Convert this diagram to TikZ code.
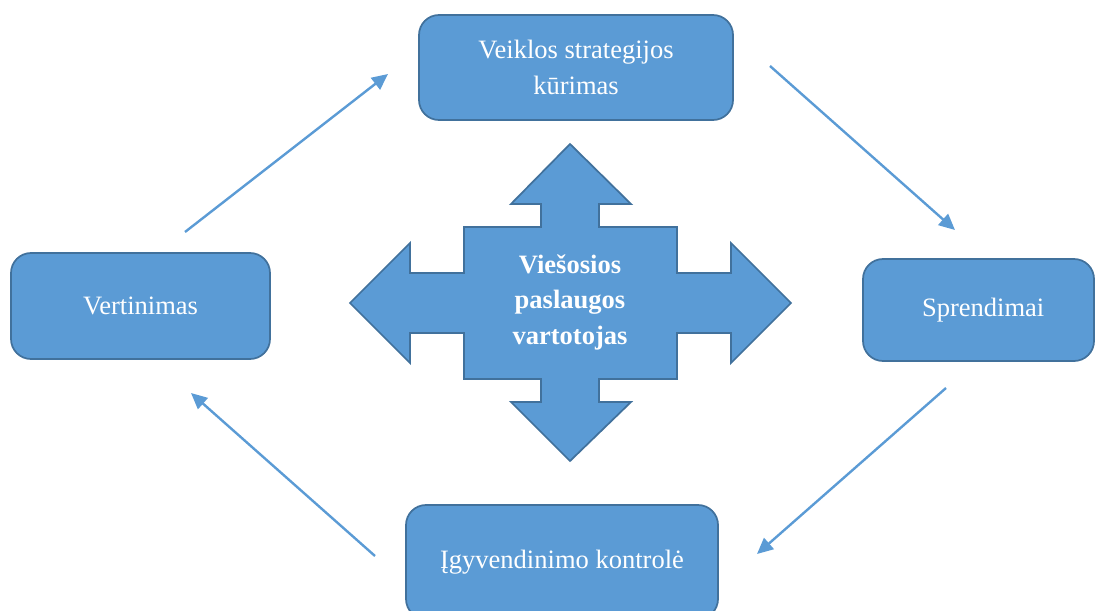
\documentclass[tikz,border=0pt]{standalone}
\usepackage{fontspec}
\setmainfont{Liberation Serif}
\usetikzlibrary{arrows.meta}
\definecolor{boxfill}{HTML}{5B9BD5}
\definecolor{boxline}{HTML}{41719C}
\tikzset{
  stagebox/.style={draw=boxline, fill=boxfill, line width=1.3pt, rounded corners=15pt,
    text=white, align=center, inner sep=0pt,
    font=\fontsize{19.9}{27}\selectfont},
  flowarrow/.style={draw=boxfill, line width=1.8pt, -{Triangle[length=12pt,width=11pt]}},
  crossshape/.style={draw=boxline, fill=boxfill, line width=1.3pt, line join=miter},
  centertext/.style={text=white, align=center, font=\bfseries\fontsize{19.9}{26.6}\selectfont}
}
\begin{document}
\begin{tikzpicture}[x=0.75pt,y=-0.75pt]
\useasboundingbox (0,0) rectangle (1095,610);
\clip (0,0) rectangle (1095,610);

% stage boxes
\node[stagebox, minimum width=235.5pt, minimum height=78.75pt] (strat) at (576,67.5) {Veiklos strategijos\\kūrimas};
\node[stagebox, minimum width=194.25pt, minimum height=79.5pt] (vert) at (140.5,306) {Vertinimas};
\node[stagebox, minimum width=173.25pt, minimum height=76.5pt] (spr) at (978.5,310) {\hspace*{7pt}Sprendimai};
\node[stagebox, minimum width=234pt, minimum height=85.5pt] (igy) at (562,562) {Įgyvendinimo kontrolė};

% central four-way arrow
\draw[crossshape] (570,144) -- (631,204) -- (599,204) -- (599,227) -- (677,227) -- (677,273)
  -- (731,273) -- (731,243) -- (791,303) -- (731,363) -- (731,333) -- (677,333) -- (677,379)
  -- (599,379) -- (599,402) -- (631,402) -- (570,461) -- (511,402) -- (541,402) -- (541,379)
  -- (464,379) -- (464,333) -- (410,333) -- (410,363) -- (350,303) -- (410,243) -- (410,273)
  -- (464,273) -- (464,227) -- (541,227) -- (541,204) -- (511,204) -- cycle;
\node[centertext] (user) at (570,302) {Viešosios\\paslaugos\\vartotojas};

% arrow end points
\coordinate (a1s) at (185,232); \coordinate (a1e) at (388,74);
\coordinate (a2s) at (770,66);  \coordinate (a2e) at (955,230);
\coordinate (a3s) at (946,388); \coordinate (a3e) at (757,554);
\coordinate (a4s) at (375,556); \coordinate (a4e) at (191,393);

\draw[flowarrow] (a1s) -- (a1e);
\draw[flowarrow] (a2s) -- (a2e);
\draw[flowarrow] (a3s) -- (a3e);
\draw[flowarrow] (a4s) -- (a4e);
\end{tikzpicture}
\end{document}
